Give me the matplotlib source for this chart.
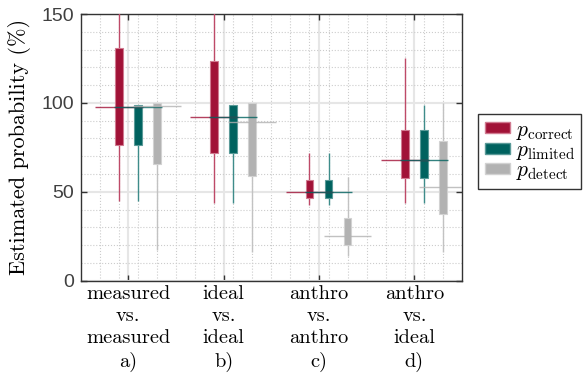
import matplotlib
matplotlib.use("Agg")
import matplotlib.pyplot as plt
from matplotlib.patches import Patch
from matplotlib.ticker import MultipleLocator, FixedLocator

plt.rcParams['font.family'] = 'cmr10'
plt.rcParams['mathtext.fontset'] = 'cm'
plt.rcParams['axes.unicode_minus'] = False
plt.rcParams['axes.formatter.use_mathtext'] = False

categories = ["measured\nvs.\nmeasured\na)", "ideal\nvs.\nideal\nb)",
              "anthro\nvs.\nanthro\nc)", "anthro\nvs.\nideal\nd)"]
series_names = [r"$p_{\mathrm{correct}}$", r"$p_{\mathrm{limited}}$", r"$p_{\mathrm{detect}}$"]

# red: p_correct
correct_whisk_lo = [44.8, 43.9, 42.8, 43.9]
correct_q_lo = [76.3, 72.0, 46.5, 57.9]
correct_q_hi = [131.1, 123.6, 56.4, 84.8]
correct_whisk_hi = [160, 160, 71.6, 125.1]
correct_level = [97.9, 91.9, 49.9, 67.9]

# teal: p_limited
limited_whisk_lo = [44.8, 43.9, 42.8, 43.9]
limited_q_lo = [76.3, 72.0, 46.5, 57.9]
limited_q_hi = [98.8, 98.8, 56.4, 84.8]
limited_whisk_hi = [98.8, 98.8, 71.6, 98.6]
limited_level = [97.9, 91.9, 49.9, 67.9]

# gray: p_detect
detect_whisk_lo = [17.3, 16.3, 13.9, 15.9]
detect_q_lo = [65.6, 59.1, 19.9, 37.5]
detect_q_hi = [100, 100, 35.1, 78.4]
detect_whisk_hi = [100, 100, 58.3, 99.8]
detect_level = [98.3, 89.1, 25.3, 52.9]

colors = ['#A11237', '#00625F', '#B2B2B2']
edge_colors = ['#D07A90', '#5A9A98', '#D2D2D2']
whisk_colors = ['#BE4A68', '#3E8C8A', '#C2C2C2']
offsets = [-0.1, 0.1, 0.3]

fig = plt.figure(figsize=(5.83, 3.85), dpi=100)
ax = fig.add_axes([0.1384, 0.2709, 0.6541, 0.6927])

data = [
    (correct_whisk_lo, correct_q_lo, correct_q_hi, correct_whisk_hi, correct_level),
    (limited_whisk_lo, limited_q_lo, limited_q_hi, limited_whisk_hi, limited_level),
    (detect_whisk_lo, detect_q_lo, detect_q_hi, detect_whisk_hi, detect_level),
]

x = list(range(1, len(categories) + 1))
for k, (wlo, qlo, qhi, whi, lvl) in enumerate(data):
    pos = [i + offsets[k] for i in x]
    ax.vlines(pos, wlo, whi, color=whisk_colors[k], linewidth=1.0, zorder=3)
    ax.bar(pos, [h - l for h, l in zip(qhi, qlo)], bottom=qlo, width=0.08,
           color=colors[k], edgecolor=edge_colors[k], linewidth=0.8, zorder=4)
    ax.hlines(lvl, [p - 0.25 for p in pos], [p + 0.25 for p in pos],
              color=colors[k], linewidth=1.0, alpha=0.8, zorder=5)

ax.set_xlim(0.5, 4.5)
ax.set_ylim(0, 150)
ax.set_xticks(x)
ax.set_xticklabels(categories, fontsize=14.7, linespacing=1.3)
ax.xaxis.set_minor_locator(FixedLocator([0.7 + 0.2 * i for i in range(19)]))
ax.yaxis.set_major_locator(MultipleLocator(50))
ax.yaxis.set_minor_locator(MultipleLocator(10))
for lbl in ax.get_yticklabels():
    lbl.set_family('Liberation Sans')
ax.tick_params(axis='y', labelsize=14, labelcolor='#404040', pad=5)
ax.tick_params(which='both', direction='in', top=True, right=True, color='#333333')
ax.tick_params(which='major', length=4, width=1)
ax.tick_params(which='minor', length=0)
ax.tick_params(axis='x', pad=3)

ax.grid(which='major', color='#E6E6E6', linewidth=1.5, zorder=0)
ax.grid(which='minor', color='#CCCCCC', linestyle=':', linewidth=0.8, zorder=0)
ax.set_axisbelow(True)
for sp in ax.spines.values():
    sp.set_color('#333333')
    sp.set_linewidth(1.0)

ax.set_ylabel('Estimated probability (%)', fontsize=16, labelpad=7)

handles = [Patch(facecolor=colors[k], edgecolor=edge_colors[k], label=series_names[k])
           for k in range(3)]
fig.legend(handles=handles, loc='upper left', bbox_to_anchor=(0.82, 0.705),
           fontsize=15.5, frameon=True, fancybox=False, edgecolor='#333333',
           framealpha=1, handlelength=1.2, handleheight=0.4, labelspacing=-0.05,
           borderpad=0.3, handletextpad=0.25, borderaxespad=0)

fig.savefig('out.png', dpi=100)
